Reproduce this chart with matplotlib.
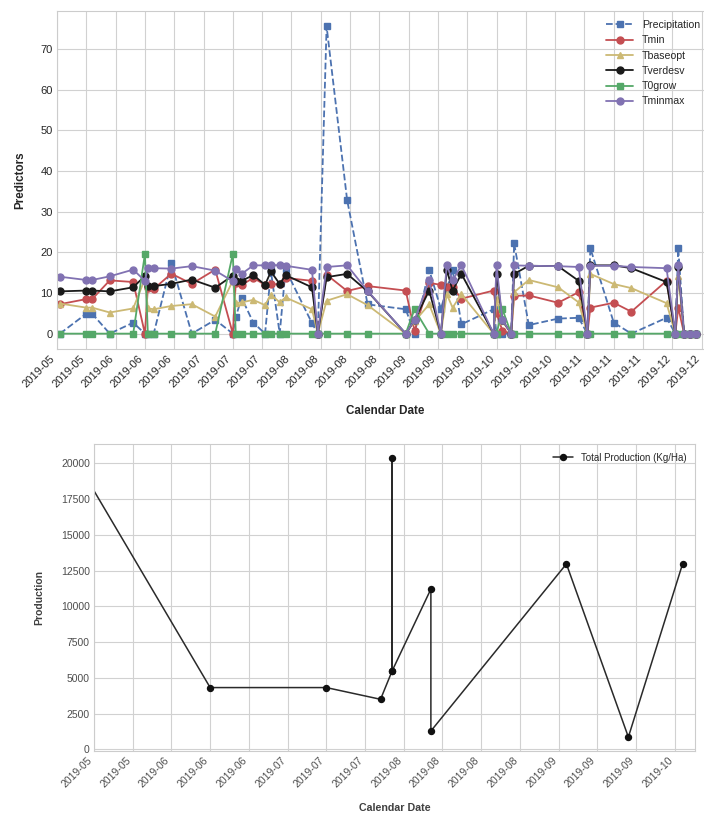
import matplotlib
matplotlib.use("Agg")
import matplotlib.pyplot as plt
import matplotlib.dates as mdates
import matplotlib.ticker as mticker
import pandas as pd
import seaborn as sns

# --- predictors (top chart) ---
dates = [
    "2019-05-14", "2019-05-23", "2019-05-25", "2019-05-31", "2019-06-08",
    "2019-06-12", "2019-06-13", "2019-06-15", "2019-06-21", "2019-06-28",
    "2019-07-06", "2019-07-12", "2019-07-13", "2019-07-15", "2019-07-19",
    "2019-07-23", "2019-07-25", "2019-07-28", "2019-07-30", "2019-08-08",
    "2019-08-10", "2019-08-13", "2019-08-20", "2019-08-27", "2019-09-09",
    "2019-09-12", "2019-09-17", "2019-09-21", "2019-09-23", "2019-09-25",
    "2019-09-28", "2019-10-09", "2019-10-10", "2019-10-12", "2019-10-15",
    "2019-10-16", "2019-10-21", "2019-10-31", "2019-11-07", "2019-11-10",
    "2019-11-11", "2019-11-19", "2019-11-25", "2019-12-07", "2019-12-10",
    "2019-12-11", "2019-12-13", "2019-12-15", "2019-12-17",
]
precipitation = [
    0, 4.9, 4.9, 0, 2.7, 0, 0, 0, 17.4, 0,
    3.4, 0, 4.1, 8.8, 2.7, 0, 15.3, 0, 15.8, 2.6,
    0, 75.6, 32.9, 7.2, 6.0, 0, 15.7, 6.1, 11.0, 15.7,
    2.3, 6.0, 0, 0, 0, 22.2, 2.1, 3.7, 3.9, 0,
    21.0, 2.7, 0, 3.9, 0, 21.0, 0, 0, 0,
]
tmin = [
    7.25, 8.5, 8.5, 13.1, 12.7, 0, 11.2, 11.0, 14.75, 12.25,
    15.75, 0, 12.5, 12.0, 13.7, 12.0, 12.1, 12.2, 13.7, 13.0,
    0, 14.5, 10.5, 11.7, 10.6, 0.7, 12.5, 12.0, 11.5, 11.4,
    8.6, 10.6, 5.0, 0.7, 0, 9.3, 9.4, 7.6, 10.2, 0,
    6.4, 7.6, 5.4, 13.0, 0, 6.4, 0, 0, 0,
]
tbaseopt = [
    7.4, 6.4, 6.4, 5.2, 6.2, 13.5, 6.2, 6.0, 6.8, 7.25,
    4.2, 13.0, 7.5, 7.7, 8.3, 7.0, 9.6, 7.7, 8.9, 6.0,
    0, 8.1, 9.7, 7.0, 0, 3.0, 7.2, 0, 9.7, 6.4,
    9.7, 0, 8.5, 3.0, 0, 10.2, 13.2, 11.4, 7.7, 0,
    14.7, 12.2, 11.2, 7.5, 0, 14.3, 0, 0, 0,
]
tverdesv = [
    10.4, 10.6, 10.6, 10.4, 11.4, 14.2, 11.7, 11.7, 12.25, 13.3,
    11.3, 14.3, 13.0, 13.0, 14.4, 12.0, 15.3, 12.2, 14.4, 11.4,
    0, 13.9, 14.7, 10.4, 0, 3.3, 10.6, 0, 15.7, 10.6,
    14.7, 0, 14.7, 3.3, 0, 14.7, 16.7, 16.6, 13.0, 0,
    16.8, 16.8, 16.1, 12.7, 0, 16.5, 0, 0, 0,
]
t0grow = [
    0, 0, 0, 0, 0, 19.6, 0, 0, 0, 0,
    0, 19.6, 0, 0, 0, 0, 0, 0, 0, 0,
    0, 0, 0, 0, 0, 6.0, 0, 0, 0, 0,
    0, 0, 0, 6.0, 0, 0, 0, 0, 0, 0,
    0, 0, 0, 0, 0, 0, 0, 0, 0,
]
tminmax = [
    14.0, 13.2, 13.2, 14.1, 15.75, 13.0, 16.1, 16.1, 16.0, 16.6,
    15.5, 12.9, 16.0, 14.7, 16.8, 16.8, 16.9, 16.8, 16.7, 15.7,
    0, 16.4, 16.8, 10.5, 0, 3.3, 13.1, 0, 16.8, 13.1,
    16.8, 0, 16.8, 3.3, 0, 16.8, 16.7, 16.6, 16.4, 0,
    16.7, 16.7, 16.4, 16.1, 0, 16.8, 0, 0, 0,
]

# --- production (bottom chart) ---
prod_dates = [
    "2019-05-11", "2019-06-12", "2019-07-12", "2019-07-26", "2019-07-29",
    "2019-07-29", "2019-07-29", "2019-08-08", "2019-08-08", "2019-09-12",
    "2019-09-28", "2019-10-12",
]
production = [19000, 4320, 4320, 3500, 5490, 20380, 5490, 11210, 1280, 12970, 860, 12970]

sns.set_style("whitegrid")
plt.rcParams["font.family"] = ["Liberation Sans", "DejaVu Sans"]
plt.rcParams["axes.edgecolor"] = ".8"
plt.rcParams["grid.color"] = ".82"

W, H = 704, 814
fig = plt.figure(figsize=(W / 100, H / 100), dpi=100)
ax1 = fig.add_axes([57 / W, 1 - 349 / H, (714 - 57) / W, (349 - 11) / H])
ax2 = fig.add_axes([94 / W, 1 - 751 / H, (695 - 94) / W, (751 - 444) / H])

d = pd.to_datetime(dates)
style = dict(linewidth=1.3, markersize=5)
ax1.plot(d, precipitation, "s--", color="#4C72B0", label="Precipitation", **style)
ax1.plot(d, tmin, "o-", color="#C44E52", label="Tmin", **style)
ax1.plot(d, tbaseopt, "^-", color="#CCB974", label="Tbaseopt", **style)
ax1.plot(d, tverdesv, "o-", color="#1a1a1a", label="Tverdesv", **style)
ax1.plot(d, t0grow, "s-", color="#55A868", label="T0grow", **style)
ax1.plot(d, tminmax, "o-", color="#8172B2", label="Tminmax", **style)

start = pd.Timestamp("2019-05-13")
ax1.set_xlim(start, start + pd.Timedelta(days=224.2))
ax1.set_xticks(pd.date_range(start, "2019-12-19", freq="10D"))
ax1.xaxis.set_major_formatter(mdates.DateFormatter("%Y-%m"))
ax1.tick_params(labelsize=8, colors=".15", length=0, pad=3)
plt.setp(ax1.get_xticklabels(), rotation=45, ha="right")
ax1.set_xlabel("Calendar Date", fontsize=8.4, fontweight="bold", labelpad=11)
ax1.set_ylabel("Predictors", fontsize=8.4, fontweight="bold", labelpad=10)
ax1.legend(loc="upper right", fontsize=7.6, labelspacing=0.5, handlelength=2.6,
           frameon=False, borderaxespad=0, borderpad=0.2,
           bbox_to_anchor=(702 / W, 1 - 18 / H), bbox_transform=fig.transFigure)

pd_dates = pd.to_datetime(prod_dates)
ax2.plot(pd_dates, production, "o-", color="#2a2a2a", markerfacecolor="#111111",
         markeredgecolor="#111111", linewidth=1.1, markersize=4.3,
         label="Total Production (Kg/Ha)")
ax2.set_xlim(start, pd.Timestamp("2019-10-15 05:00"))
ax2.set_xticks(pd.date_range(start, "2019-10-10", freq="10D"))
ax2.xaxis.set_major_formatter(mdates.DateFormatter("%Y-%m"))
ax2.yaxis.set_major_locator(mticker.MultipleLocator(2500))
ax2.tick_params(labelsize=7.5, colors=".3", length=0, pad=3)
plt.setp(ax2.get_xticklabels(), rotation=45, ha="right")
ax2.set_xlabel("Calendar Date", fontsize=7.7, fontweight="bold", labelpad=10, color=".25")
ax2.set_ylabel("Production", fontsize=7.5, fontweight="bold", labelpad=12, color=".25")
ax2.legend(loc="upper right", fontsize=7, frameon=False)

fig.savefig("out.png", dpi=100)
